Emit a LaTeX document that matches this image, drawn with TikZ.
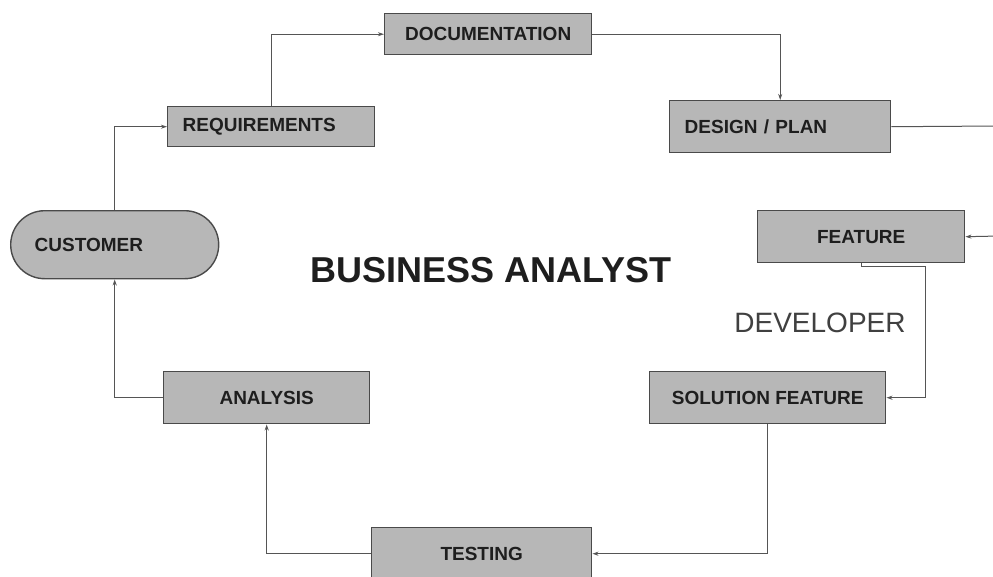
\documentclass[tikz,border=0pt]{standalone}
\usepackage{fontspec}
\setmainfont{Liberation Sans}
\usetikzlibrary{arrows.meta}
\definecolor{boxfill}{HTML}{B7B7B7}
\definecolor{boxline}{HTML}{4A4A4A}
\definecolor{connc}{HTML}{555555}
\definecolor{txt}{HTML}{1E1E1E}
\begin{document}
\begin{tikzpicture}[x=1pt,y=-1pt,
  box/.style={draw=boxline,line width=1.4pt,fill=boxfill,inner sep=0pt,
    font=\fontsize{19}{22}\selectfont\bfseries,text=txt,anchor=north west},
  boxl/.style={box,align=left,inner xsep=#1},
  link/.style={draw=connc,line width=1pt,-{Stealth[length=6pt,width=4pt]}},
  plainlink/.style={draw=connc,line width=1pt}]
\useasboundingbox (0,0) rectangle (993,576);
\clip (0,0) rectangle (993,576);
\fill[white] (0,0) rectangle (993,576);

\node[boxl=24pt,text width=160pt,minimum height=68pt,rounded corners=34pt] (cust) at (10,210) {CUSTOMER};
\node[boxl=15pt,text width=177pt,minimum height=40pt] (req) at (167,106) {REQUIREMENTS};
\node[box,minimum width=207pt,minimum height=41pt] (doc) at (384,13) {DOCUMENTATION};
\node[boxl=15pt,text width=191pt,minimum height=52pt] (des) at (669,100) {DESIGN / PLAN};
\node[box,minimum width=207pt,minimum height=52pt] (feat) at (757,210) {FEATURE};
\node[box,minimum width=236pt,minimum height=52pt] (sol) at (649,371) {SOLUTION FEATURE};
\node[box,minimum width=220pt,minimum height=52pt] (test) at (371,527) {TESTING};
\node[box,minimum width=206pt,minimum height=52pt] (ana) at (163,371) {ANALYSIS};

\node[font=\fontsize{36}{40}\selectfont\bfseries,text=txt] (ba) at (491,270) {BUSINESS ANALYST};
\node[font=\fontsize{28}{32}\selectfont,text=txt!85] (dev) at (820,323) {DEVELOPER};

\coordinate (desout) at (1000,126);
\coordinate (featin) at (1000,236);
\coordinate (fk) at (925,266);

\draw[link] (cust.north) |- (req.west);
\draw[link] (req.north) |- (doc.west);
\draw[link] (doc.east) -| (des.north);
\draw[plainlink] (des.east) -- (desout);
\draw[link] (featin) -- (feat.east);
\draw[link] (feat.south) |- (fk) |- (sol.east);
\draw[link] (sol.south) |- (test.east);
\draw[link] (test.west) -| (ana.south);
\draw[link] (ana.west) -| (cust.south);
\end{tikzpicture}
\end{document}
